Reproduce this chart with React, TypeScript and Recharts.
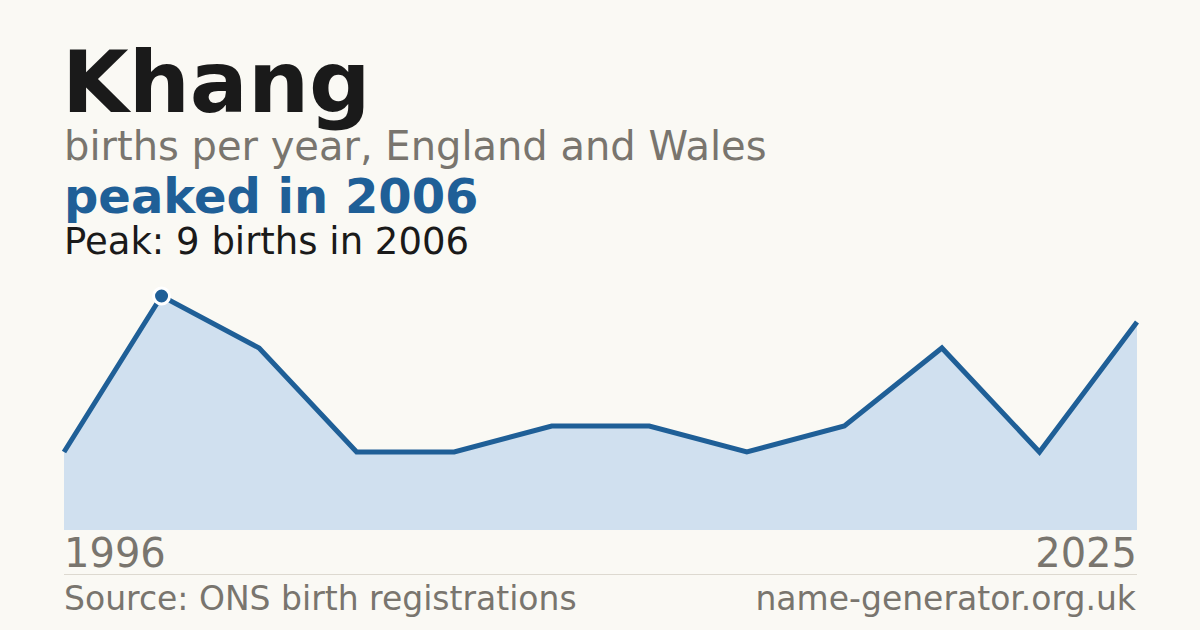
import React from 'react';
import { AreaChart, Area, XAxis, YAxis } from 'recharts';

const years = ['1996', '2006', '2008', '2011', '2013', '2015', '2017', '2019', '2021', '2022', '2024', '2025'];
const births = [3, 9, 7, 3, 3, 4, 4, 3, 4, 7, 3, 8];
const edgeTicks = ['1996', '2025'];

const peakIndex = births.indexOf(Math.max(...births));

const data = years.map((year, i) => ({ year, births: births[i] }));

const BLUE = '#1f5f97';
const GREY = '#79756e';
const FONT = '"DejaVu Sans", sans-serif';

function EdgeTick(props: any) {
  const { x, y, payload } = props;
  const isFirst = payload.value === edgeTicks[0];
  return (
    <text
      x={x}
      y={y + 29}
      textAnchor={isFirst ? 'start' : 'end'}
      fontSize={40}
      fill={GREY}
      fontFamily={FONT}
    >
      {payload.value}
    </text>
  );
}

function PeakDot(props: any) {
  const { cx, cy, index } = props;
  if (index !== peakIndex) return <g key={index} />;
  return <circle key={index} cx={cx} cy={cy} r={8} fill={BLUE} stroke="#ffffff" strokeWidth={3} />;
}

export default function App() {
  return (
    <div
      style={{
        position: 'absolute',
        left: 0,
        top: 0,
        width: 1200,
        height: 630,
        background: '#faf9f4',
        fontFamily: FONT,
        overflow: 'hidden',
      }}
    >
      <svg width={1200} height={630} style={{ position: 'absolute', left: 0, top: 0 }}>
        <text x={62} y={112} fontSize={86} fontWeight="bold" fill="#1a1a1a" fontFamily={FONT}>
          Khang
        </text>
        <text x={64} y={160} fontSize={40} fill={GREY} fontFamily={FONT}>
          births per year, England and Wales
        </text>
        <text x={64} y={213} fontSize={48} fontWeight="bold" fill={BLUE} fontFamily={FONT}>
          peaked in 2006
        </text>
        <text x={64} y={254} fontSize={37} fill="#1a1a1a" fontFamily={FONT}>
          Peak: 9 births in 2006
        </text>
        <line x1={64} x2={1137} y1={574.5} y2={574.5} stroke="#ddd9d0" strokeWidth={1} />
        <text x={64} y={610} fontSize={33} fill={GREY} fontFamily={FONT}>
          Source: ONS birth registrations
        </text>
        <text x={1136} y={610} fontSize={33} fill={GREY} fontFamily={FONT} textAnchor="end">
          name-generator.org.uk
        </text>
      </svg>
      <div style={{ position: 'absolute', left: 0, top: 0 }}>
        <AreaChart
          width={1200}
          height={630}
          data={data}
          margin={{ top: 296, right: 63, left: 64, bottom: 56 }}
        >
          <YAxis hide domain={[0, 9]} />
          <XAxis
            dataKey="year"
            ticks={edgeTicks}
            interval={0}
            axisLine={false}
            tickLine={false}
            height={44}
            tick={<EdgeTick />}
          />
          <Area
            type="linear"
            dataKey="births"
            stroke={BLUE}
            strokeWidth={5}
            fill="#d0e0ef"
            fillOpacity={1}
            dot={<PeakDot />}
            activeDot={false}
            isAnimationActive={false}
          />
        </AreaChart>
      </div>
    </div>
  );
}
